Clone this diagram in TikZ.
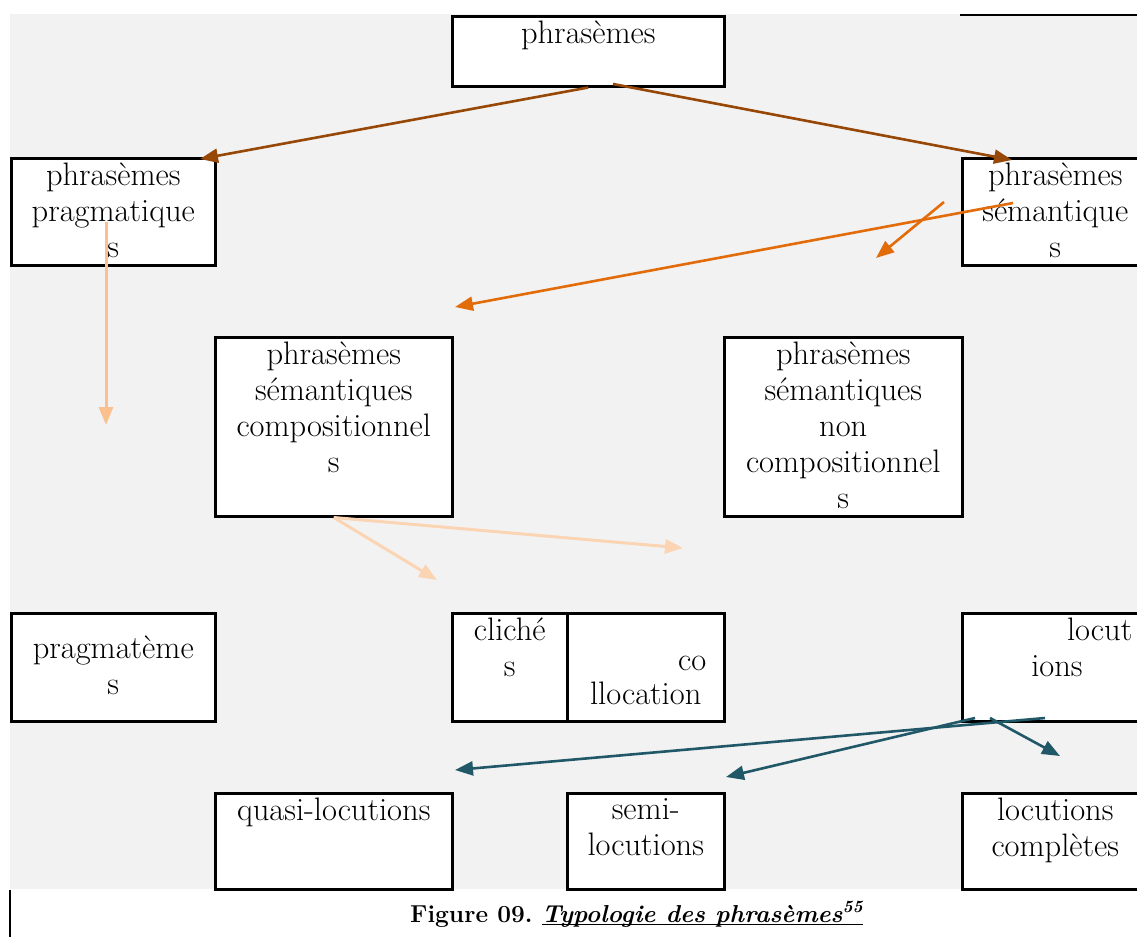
\documentclass[tikz,border=0pt]{standalone}
\usetikzlibrary{arrows.meta}

\definecolor{panel}{HTML}{F2F2F2}
\definecolor{rust}{HTML}{974806}
\definecolor{tangerine}{HTML}{E36C0A}
\definecolor{peach}{HTML}{FAC090}
\definecolor{paleorange}{HTML}{FBD4B4}
\definecolor{deepteal}{HTML}{215868}

% text block of a box: width, height, lines (top aligned)
\newcommand\boxtxt[3]{\parbox[t][#2][t]{#1}{\centering\vspace*{5pt}#3}}
% underline sitting just under the baseline
\newcommand\captionul[1]{\setbox0\hbox{#1}\rlap{\rule[-3pt]{\wd0}{1.4pt}}\box0}

\begin{document}
\begin{tikzpicture}[x=1pt,y=-1pt,
  cell/.style={draw=black, fill=white, line width=2.5pt, inner sep=0pt, anchor=north west,
               font=\fontsize{32.5}{36}\selectfont},
  link/.style={line width=2.6pt, -{Triangle[length=18pt,width=14pt]}},
  rustarrow/.style={link, draw=rust, fill=rust},
  orangearrow/.style={link, draw=tangerine, fill=tangerine},
  peacharrow/.style={link, draw=peach, fill=peach, line width=3pt},
  palearrow/.style={link, draw=paleorange, fill=paleorange, line width=3pt},
  tealarrow/.style={link, draw=deepteal, fill=deepteal}]

\useasboundingbox (0,0) rectangle (1137,937);
\fill[panel] (10,14) rectangle (1137,889);
\draw[line width=2.5pt] (960,15) -- (1137,15);
\draw[line width=2.5pt] (10,890) -- (10,937);

% boxes
\node[cell] (top)   at (451,15)  {\boxtxt{272pt}{70pt}{phrasèmes}};
\node[cell] (prag)  at (10,157)  {\boxtxt{204pt}{107pt}{phrasèmes\\pragmatique\\s}};
\node[cell] (sem)   at (961,157) {\boxtxt{186pt}{107pt}{phrasèmes\\sémantique\\s}};
\node[cell] (comp)  at (214,336) {\boxtxt{237pt}{179pt}{phrasèmes\\sémantiques\\compositionnel\\s}};
\node[cell] (ncomp) at (723,336) {\boxtxt{238pt}{179pt}{phrasèmes\\sémantiques\\non\\compositionnel\\s}};
\node[cell] (pragm) at (10,612)  {\boxtxt{204pt}{108pt}{\vspace*{18pt}pragmatème\\s}};
\node[cell] (cli)   at (451,612) {\boxtxt{115pt}{108pt}{cliché\\s}};
\node[cell] (coll)  at (566,612) {\boxtxt{157pt}{108pt}{\rule{0pt}{22pt}\\[-6pt]\makebox[\linewidth][r]{co\hspace*{18pt}}\\[-2pt]llocation}};
\node[cell] (locs)  at (961,612) {\boxtxt{186pt}{108pt}{\makebox[\linewidth][r]{locut\hspace*{16pt}}\\\makebox[\linewidth][l]{\hspace*{69pt}ions}}};
\node[cell] (quasi) at (214,792) {\boxtxt{237pt}{96pt}{quasi-locutions}};
\node[cell] (semi)  at (566,792) {\boxtxt{157pt}{96pt}{semi-\\locutions}};
\node[cell] (compl) at (961,792) {\boxtxt{186pt}{96pt}{locutions\\complètes}};

% arrow ends
\coordinate (r1) at (200,159);
\coordinate (r2s) at (613,84);
\coordinate (r2) at (1012,160);
\coordinate (o1s) at (1013,203);
\coordinate (o1) at (455,307);
\coordinate (o2s) at (944,202);
\coordinate (o2) at (876,258);
\coordinate (ps) at (106,222);
\coordinate (pe) at (106,425);
\coordinate (l1) at (437,580);
\coordinate (l2) at (683,548);
\coordinate (t1s) at (1045,718);
\coordinate (t1) at (455,770);
\coordinate (t2s) at (975,718);
\coordinate (t2) at (726,777);
\coordinate (t3s) at (990,718);
\coordinate (t3) at (1060,756);

\draw[rustarrow] (top.south) -- (r1);
\draw[rustarrow] (r2s) -- (r2);
\draw[orangearrow] (o1s) -- (o1);
\draw[orangearrow] (o2s) -- (o2);
\draw[peacharrow] (ps) -- (pe);
\draw[palearrow] (comp.south) -- (l1);
\draw[palearrow] (comp.south) -- (l2);
\draw[tealarrow] (t1s) -- (t1);
\draw[tealarrow] (t2s) -- (t2);
\draw[tealarrow] (t3s) -- (t3);

% caption
\node[anchor=base west, inner sep=0pt, font=\fontsize{24.5}{28}\selectfont\bfseries] (cap) at (410,922)
  {Figure 09.\ \captionul{\itshape Typologie des phrasèmes\textsuperscript{55}}};
\end{tikzpicture}
\end{document}
